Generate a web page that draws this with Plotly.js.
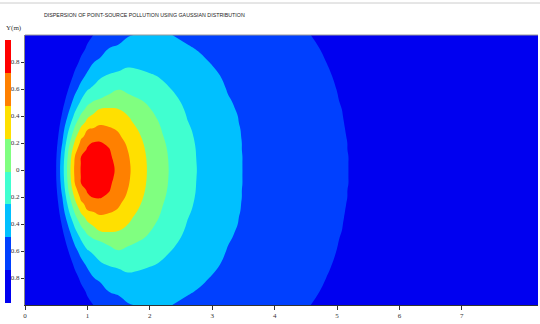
<!DOCTYPE html>
<html>
<head>
<meta charset="utf-8">
<script src="https://cdn.plot.ly/plotly-3.0.1.min.js"></script>
<style>html,body{margin:0;padding:0;background:#fff;}#chart{width:540px;height:324px;}</style>
</head>
<body>
<div id="chart"></div>
<script>
// Downwind distance grid (x) and crosswind distance grid (y, metres)
const xDist = [0, 0.4, 0.5, 0.6, 0.7, 0.8, 0.9, 1.0, 1.1, 1.2, 1.35, 1.5, 1.65, 1.8, 2.0, 2.2, 2.4, 2.6, 2.8, 3.0, 3.25, 3.5, 3.75, 4.0, 4.3, 4.6, 4.9, 5.2, 5.5, 8.3];
const yDist = [-1, -0.9, -0.8, -0.7, -0.6, -0.5, -0.45, -0.4, -0.35, -0.3, -0.25, -0.2, -0.15, -0.1, -0.05, 0,
               0.05, 0.1, 0.15, 0.2, 0.25, 0.3, 0.35, 0.4, 0.45, 0.5, 0.6, 0.7, 0.8, 0.9, 1];

// Concentration level at each grid point (plume is symmetric about y = 0)
const rowY000 = [0, 0, 1.0, 2.6, 4.5, 6.22, 7.08, 7.36, 7.63, 7.69, 7.28, 6.79, 6.17, 5.56, 4.83, 4.26, 3.75, 3.30, 2.91, 2.64, 2.30, 1.98, 1.84, 1.69, 1.51, 1.34, 1.16, 0.99, 0.81, 0];
const rowY005 = [0, 0, 0.99, 2.56, 4.45, 6.16, 7.05, 7.27, 7.50, 7.54, 7.21, 6.76, 6.14, 5.54, 4.82, 4.25, 3.74, 3.29, 2.90, 2.63, 2.29, 1.98, 1.84, 1.69, 1.51, 1.34, 1.16, 0.99, 0.81, 0];
const rowY010 = [0, 0, 0.93, 2.44, 4.30, 6.01, 7.01, 7.17, 7.35, 7.38, 7.12, 6.68, 6.08, 5.49, 4.79, 4.22, 3.73, 3.27, 2.89, 2.62, 2.29, 1.98, 1.83, 1.69, 1.51, 1.34, 1.16, 0.99, 0.81, 0];
const rowY015 = [0, 0, 0.84, 2.27, 4.07, 5.62, 6.66, 7.08, 7.20, 7.23, 7.04, 6.55, 5.98, 5.41, 4.74, 4.18, 3.70, 3.25, 2.88, 2.61, 2.27, 1.97, 1.83, 1.68, 1.51, 1.33, 1.16, 0.98, 0.81, 0];
const rowY020 = [0, 0, 0.73, 2.03, 3.73, 5.17, 6.25, 6.89, 7.06, 7.07, 6.85, 6.35, 5.85, 5.30, 4.67, 4.12, 3.65, 3.21, 2.86, 2.59, 2.26, 1.97, 1.82, 1.68, 1.50, 1.33, 1.15, 0.98, 0.80, 0];
const rowY025 = [0, 0, 0.59, 1.83, 3.34, 4.71, 5.82, 6.24, 6.53, 6.72, 6.41, 6.11, 5.67, 5.16, 4.59, 4.04, 3.60, 3.16, 2.83, 2.57, 2.23, 1.96, 1.81, 1.67, 1.49, 1.32, 1.14, 0.97, 0.80, 0];
const rowY030 = [0, 0, 0.45, 1.62, 2.96, 4.23, 5.23, 5.99, 6.13, 6.26, 6.15, 5.91, 5.45, 5.01, 4.48, 3.96, 3.53, 3.10, 2.80, 2.54, 2.21, 1.95, 1.80, 1.66, 1.48, 1.31, 1.13, 0.96, 0.79, 0];
const rowY035 = [0, 0, 0.30, 1.39, 2.55, 3.75, 4.71, 5.22, 5.54, 5.87, 5.76, 5.46, 5.17, 4.85, 4.35, 3.87, 3.45, 3.03, 2.76, 2.50, 2.17, 1.93, 1.79, 1.64, 1.47, 1.30, 1.12, 0.95, 0.78, 0];
const rowY040 = [0, 0, 0.14, 1.15, 2.18, 3.25, 4.17, 4.88, 5.13, 5.28, 5.46, 5.23, 5.01, 4.66, 4.19, 3.76, 3.36, 2.97, 2.71, 2.46, 2.14, 1.92, 1.77, 1.63, 1.46, 1.28, 1.11, 0.94, 0.77, 0];
const rowY045 = [0, 0, 0, 0.93, 1.85, 2.82, 3.65, 4.26, 4.72, 5.03, 5.11, 5.01, 4.72, 4.43, 4.03, 3.64, 3.25, 2.91, 2.66, 2.41, 2.09, 1.90, 1.76, 1.61, 1.44, 1.27, 1.10, 0.93, 0.76, 0];
const rowY050 = [0, 0, 0, 0.71, 1.56, 2.40, 3.17, 3.80, 4.10, 4.24, 4.46, 4.62, 4.40, 4.19, 3.87, 3.50, 3.14, 2.85, 2.60, 2.36, 2.05, 1.88, 1.74, 1.60, 1.42, 1.25, 1.08, 0.91, 0.74, 0];
const rowY060 = [0, 0, 0, 0.35, 1.03, 1.72, 2.34, 2.92, 3.18, 3.39, 3.71, 3.96, 3.79, 3.61, 3.38, 3.16, 2.93, 2.69, 2.46, 2.23, 1.97, 1.83, 1.69, 1.55, 1.38, 1.22, 1.05, 0.88, 0.71, 0];
const rowY070 = [0, 0, 0, 0.08, 0.62, 1.16, 1.70, 2.16, 2.52, 2.87, 3.08, 3.19, 3.30, 3.23, 3.08, 2.91, 2.71, 2.50, 2.29, 2.09, 1.91, 1.77, 1.64, 1.50, 1.33, 1.17, 1.01, 0.84, 0.68, 0];
const rowY080 = [0, 0, 0, 0, 0.34, 0.75, 1.16, 1.57, 1.98, 2.14, 2.36, 2.57, 2.79, 2.75, 2.62, 2.48, 2.35, 2.22, 2.09, 1.97, 1.83, 1.70, 1.57, 1.43, 1.28, 1.12, 0.96, 0.80, 0.64, 0];
const rowY090 = [0, 0, 0, 0, 0.23, 0.52, 0.80, 1.09, 1.38, 1.67, 2.02, 2.13, 2.23, 2.34, 2.31, 2.22, 2.14, 2.05, 1.96, 1.86, 1.74, 1.61, 1.48, 1.36, 1.21, 1.06, 0.91, 0.75, 0.60, 0];
const rowY100 = [0, 0, 0, 0.14, 0.31, 0.49, 0.66, 0.83, 1.01, 1.18, 1.44, 1.70, 1.96, 2.03, 2.08, 2.04, 1.99, 1.89, 1.80, 1.71, 1.60, 1.49, 1.38, 1.26, 1.13, 0.99, 0.86, 0.72, 0.59, 0];

const levelIndex = [0, 1, 2, 3, 4, 5, 6, 7];
const levelColors = ['#0000f0', '#0040ff', '#00c0ff', '#40ffd0', '#80ff80', '#ffe000', '#ff8000', '#ff0000'];
const xTicks = [0, 1, 2, 3, 4, 5, 6, 7];
const yTicks = [-0.8, -0.6, -0.4, -0.2, 0, 0.2, 0.4, 0.6, 0.8];
const yTickText = ['-0.8', '-0.6', '-0.4', '-0.2', '0', '0.2', '0.4', '0.6', '0.8'];

const upperRows = [rowY000, rowY005, rowY010, rowY015, rowY020, rowY025, rowY030, rowY035, rowY040, rowY045,
                   rowY050, rowY060, rowY070, rowY080, rowY090, rowY100];
const zGrid = upperRows.slice(1).reverse().concat(upperRows);

const colorscale = levelColors.map((c, i) => [i / (levelColors.length - 1), c]);

const W = 540, H = 324, PL = 25, PR = 2, PT = 35, PB = 19;
const paperW = W - PR;
const plotH = H - PT - PB;

const contourTrace = {
  type: 'contour',
  x: xDist,
  y: yDist,
  z: zGrid,
  colorscale: colorscale,
  contours: {coloring: 'fill', start: 1, end: 7, size: 1, showlines: false},
  line: {width: 0, smoothing: 1.3},
  showscale: false,
  hoverinfo: 'skip',
  xaxis: 'x', yaxis: 'y'
};

const keyTrace = {
  type: 'heatmap',
  x: [0],
  y: levelIndex,
  z: levelIndex.map(v => [v]),
  colorscale: colorscale,
  zmin: 0, zmax: 7,
  showscale: false,
  hoverinfo: 'skip',
  xaxis: 'x2', yaxis: 'y2'
};

const tickFont = {family: 'Liberation Serif, Times New Roman, serif', size: 7, color: '#333'};

const layout = {
  width: W,
  height: H,
  margin: {l: 0, r: PR, t: PT, b: PB},
  paper_bgcolor: '#ffffff',
  plot_bgcolor: '#0000f0',
  showlegend: false,
  xaxis: {
    domain: [PL / paperW, 1],
    range: [0, 8.22],
    tickvals: xTicks,
    ticks: 'outside', ticklen: 4, tickcolor: '#333', tickwidth: 1,
    showgrid: false, zeroline: false,
    showline: true, linecolor: '#333', linewidth: 1,
    tickfont: tickFont,
    anchor: 'y'
  },
  yaxis: {
    domain: [0, 1],
    range: [-1, 1],
    tickvals: yTicks,
    ticktext: yTickText,
    ticks: 'outside', ticklen: 3, tickcolor: '#333', tickwidth: 1,
    showgrid: false, zeroline: false,
    showline: true, linecolor: '#888', linewidth: 1,
    tickfont: tickFont,
    anchor: 'x'
  },
  xaxis2: {domain: [5 / paperW, 11 / paperW], visible: false, anchor: 'y2', fixedrange: true},
  yaxis2: {domain: [(H - PB - 303) / plotH, (H - PB - 40) / plotH], visible: false, anchor: 'x2', fixedrange: true},
  annotations: [
    {
      xref: 'paper', yref: 'paper',
      x: 42 / paperW, y: (H - PB - 15) / plotH,
      xanchor: 'left', yanchor: 'middle',
      text: 'DISPERSION OF POINT-SOURCE POLLUTION USING GAUSSIAN DISTRIBUTION',
      showarrow: false,
      font: {family: 'Liberation Sans, Arial, sans-serif', size: 5.3, color: '#222'}
    },
    {
      xref: 'paper', yref: 'paper',
      x: 4 / paperW, y: (H - PB - 28) / plotH,
      xanchor: 'left', yanchor: 'middle',
      text: 'Y(m)',
      showarrow: false,
      font: {family: 'Liberation Serif, Times New Roman, serif', size: 7, color: '#333'}
    }
  ],
  shapes: [
    {type: 'line', xref: 'paper', yref: 'paper', x0: PL / paperW, x1: 1, y0: 1, y1: 1, line: {color: '#999', width: 1}},
    {type: 'line', xref: 'paper', yref: 'paper', x0: 0, x1: 1 + PR / paperW, y0: (H - PB - 3) / plotH, y1: (H - PB - 3) / plotH, line: {color: '#cccccc', width: 1}}
  ]
};

Plotly.newPlot('chart', [contourTrace, keyTrace], layout, {displayModeBar: false, staticPlot: true});
</script>
</body>
</html>
